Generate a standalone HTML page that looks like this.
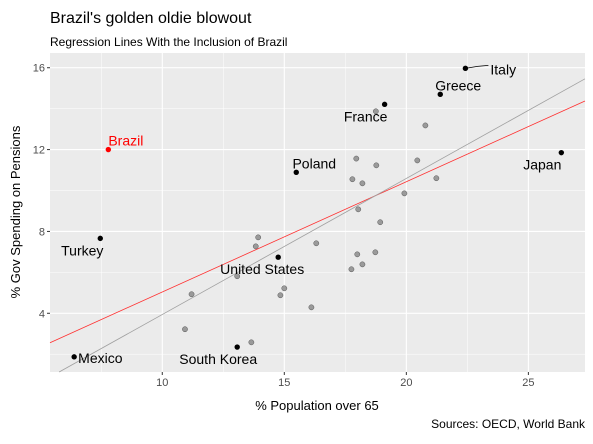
<!DOCTYPE html>
<html><head><meta charset="utf-8"><style>
body{margin:0;background:#fff;font-family:"Liberation Sans",sans-serif}
svg text{font-family:"Liberation Sans",sans-serif}
</style></head><body>
<svg id="chart" width="593" height="439" xmlns="http://www.w3.org/2000/svg">
<rect width="593" height="439" fill="#fff"/>
<text x="50" y="23" font-size="16" fill="#000">Brazil's golden oldie blowout</text>
<text x="50" y="46" font-size="12" fill="#000">Regression Lines With the Inclusion of Brazil</text>
<rect x="50" y="53" width="535" height="319" fill="#ebebeb"/>
<g id="grid"></g><g id="lines"></g><g id="points"></g><g id="labels"></g><g id="axes"></g>
<text x="317" y="410" font-size="13" text-anchor="middle" fill="#000">% Population over 65</text>
<text transform="translate(20,212) rotate(-90)" font-size="13" text-anchor="middle" fill="#000">% Gov Spending on Pensions</text>
<text x="585" y="428" font-size="12" text-anchor="end" fill="#000">Sources: OECD, World Bank</text>
</svg>
<script>
const xTicks=[10,15,20,25];
const yTicks=[4,8,12,16];
const labeledNames=["Mexico","Turkey","Brazil","South Korea","United States","Poland","France","Greece","Italy","Japan"];
const labeledX=[6.39,7.46,7.79,13.07,14.75,15.49,19.11,21.39,22.42,26.35];
const labeledY=[1.87,7.66,12.0,2.35,6.74,10.89,14.21,14.70,15.97,11.85];
const grayX=[10.93,11.20,13.07,13.65,13.83,13.93,14.84,15.0,16.11,16.31,17.75,17.79,17.95,17.99,18.03,18.20,18.20,18.73,18.75,18.77,18.93,19.92,20.45,20.78,21.23];
const grayY=[3.22,4.93,5.81,2.58,7.27,7.71,4.88,5.22,4.29,7.42,6.15,10.55,11.56,6.88,9.08,10.35,6.39,6.98,13.87,11.23,8.45,9.86,11.47,13.18,10.60];
const lineIntercepts=[-0.35,-2.71];
const lineSlopes=[0.539,0.665];
const lineColors=["#ff3030","#a0a0a0"];
const L=50,R=585,T=53,B=372,X0=5.4,X1=27.32,Y0=1.13,Y1=16.72;
const sx=v=>L+(v-X0)/(X1-X0)*(R-L);
const sy=v=>B-(v-Y0)/(Y1-Y0)*(B-T);
const NS="http://www.w3.org/2000/svg";
function mk(p,tag,at){const e=document.createElementNS(NS,tag);for(const k in at)e.setAttribute(k,at[k]);p.appendChild(e);return e;}
const grid=document.getElementById('grid'),axes=document.getElementById('axes');
xTicks.forEach((t,i)=>{
  const m=mk(grid,'line',{x1:sx(t-2.5),x2:sx(t-2.5),y1:T,y2:B,stroke:'#fff','stroke-width':0.5});
  
  const g=mk(grid,'line',{x1:sx(t),x2:sx(t),y1:T,y2:B,stroke:'#fff','stroke-width':1.1});
  
  const k=mk(axes,'line',{x1:sx(t),x2:sx(t),y1:B,y2:B+3,stroke:'#333','stroke-width':1});
  
  const tx=mk(axes,'text',{x:sx(t),y:B+14,'font-size':11,'text-anchor':'middle',fill:'#4d4d4d'});tx.textContent=t;
  
});
{const m=mk(grid,'line',{x1:sx(27.5-0.0),x2:sx(27.5),y1:T,y2:B,stroke:'#fff','stroke-width':0.5});}
yTicks.forEach(t=>{
  const m=mk(grid,'line',{x1:L,x2:R,y1:sy(t-2),y2:sy(t-2),stroke:'#fff','stroke-width':0.5});
  
  const g=mk(grid,'line',{x1:L,x2:R,y1:sy(t),y2:sy(t),stroke:'#fff','stroke-width':1.1});
  
  const k=mk(axes,'line',{x1:L-3,x2:L,y1:sy(t),y2:sy(t),stroke:'#333','stroke-width':1});
  
  const tx=mk(axes,'text',{x:L-5,y:sy(t)+4,'font-size':11,'text-anchor':'end',fill:'#4d4d4d'});tx.textContent=t;
  
});
const lines=document.getElementById('lines');
lineIntercepts.forEach((a,i)=>{
  const b=lineSlopes[i];
  let xa=X0,xb=X1,ya=a+b*xa,yb=a+b*xb;
  if(ya<Y0){xa=(Y0-a)/b;ya=Y0;} if(yb>Y1){xb=(Y1-a)/b;yb=Y1;}
  const l=mk(lines,'line',{x1:sx(xa),y1:sy(ya),x2:sx(xb),y2:sy(yb),stroke:lineColors[i],'stroke-width':0.8});
  
  
});
const pts=document.getElementById('points');
grayX.forEach((x,i)=>{
  const c=mk(pts,'circle',{cx:sx(x),cy:sy(grayY[i]),r:2.6,fill:'#7f7f7f','fill-opacity':0.75,stroke:'#555','stroke-width':0.5});
  
});
const labs=document.getElementById('labels');
// label offsets [dx,dy,anchor]
const off={"Mexico":[4,6,'start'],"Turkey":[-18,17,'middle'],"Brazil":[0,-4,'start'],"South Korea":[-19,17,'middle'],"United States":[-16,17,'middle'],"Poland":[18,-4,'middle'],"France":[-19,17,'middle'],"Greece":[18,-4,'middle'],"Italy":[25,6,'start'],"Japan":[-19,17,'middle']};
labeledX.forEach((x,i)=>{
  const n=labeledNames[i],col=n=="Brazil"?'#ff0000':'#000';
  const px=sx(x),py=sy(labeledY[i]);
  if(n=="Italy"){const s=mk(labs,'polyline',{points:`${px},${py} ${px+12},${py-2} ${px+23},${py-3}`,stroke:'#000',fill:'none','stroke-width':0.8});
    }
  const c=mk(pts,'circle',{cx:px,cy:py,r:2.7,fill:col});
  
  const o=off[n];
  const t=mk(labs,'text',{x:px+o[0],y:py+o[1],'font-size':14,'text-anchor':o[2],fill:col});t.textContent=n;
  
});
</script>
</body></html>
